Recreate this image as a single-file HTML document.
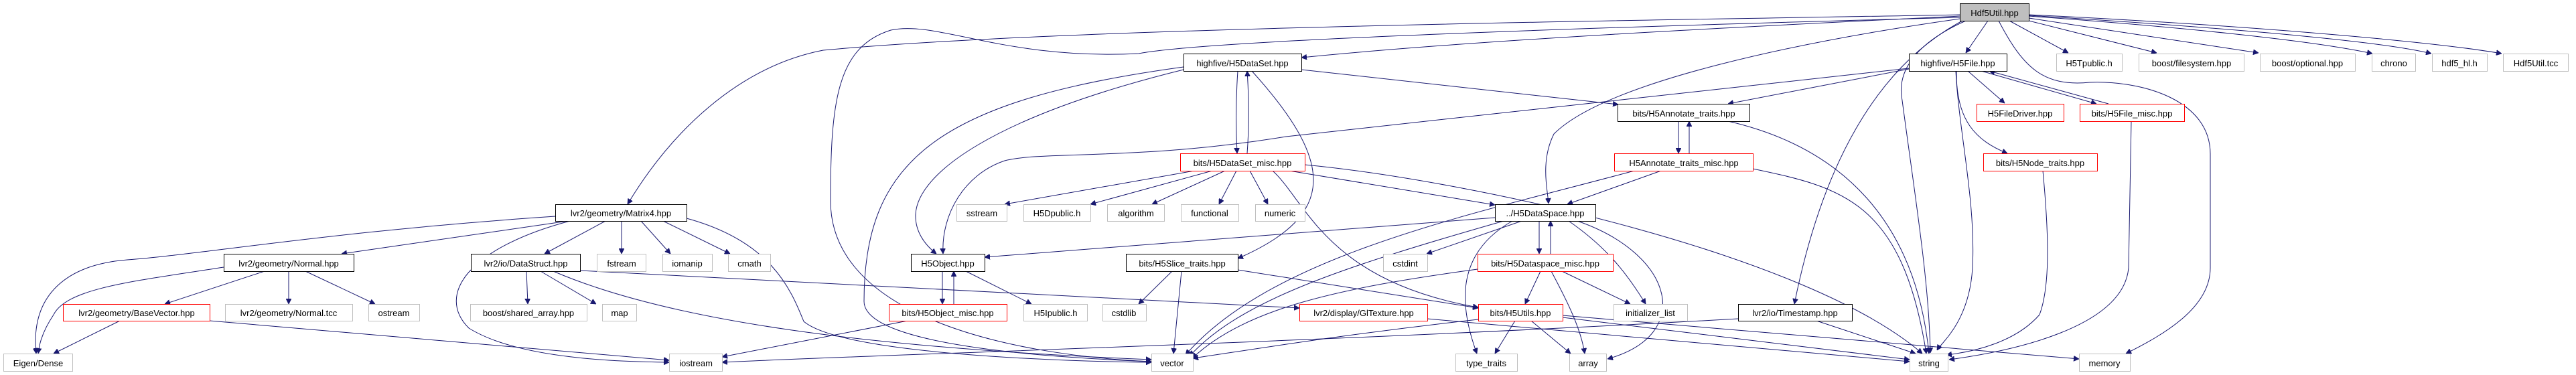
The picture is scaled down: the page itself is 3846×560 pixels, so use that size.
<!DOCTYPE html>
<html><head><meta charset="utf-8"><style>
html,body{margin:0;padding:0;background:#fff}
svg{display:block}
text{font-family:"Liberation Sans","DejaVu Sans",sans-serif;font-size:13px;fill:#000;text-anchor:middle}
.b{fill:#fff;stroke:#000;stroke-width:1}
.r{fill:#fff;stroke:#ff0000;stroke-width:1}
.g{fill:#fff;stroke:#bfbfbf;stroke-width:1}
path{fill:none;stroke:#191970;stroke-width:1}
</style></head><body>
<svg width="3846" height="560" viewBox="0 0 3846 560" xmlns="http://www.w3.org/2000/svg">
<defs><marker id="a" viewBox="0 0 10 10" refX="10" refY="5" markerWidth="8" markerHeight="8" orient="auto" markerUnits="userSpaceOnUse"><path d="M0,0 L10,5 L0,10 z" style="fill:#191970;stroke:#191970"/></marker></defs>
<g marker-end="url(#a)">
<path d="M2926,22 C2500,30 1600,40 1229,75 C1100,100 1000,200 937,305"/>
<path d="M2926,24 C2600,40 2200,60 1943,86"/>
<path d="M2926,26 C2400,40 1800,60 1700,80 C1500,90 1400,30 1330,45 C1250,70 1240,150 1240,300 C1240,470 1500,530 1719,540"/>
<path d="M2968,31 L2935,79"/>
<path d="M2926,28 C2700,60 2400,120 2320,200 C2300,240 2310,280 2312,304"/>
<path d="M2930,31 C2800,100 2720,250 2679,454"/>
<path d="M2935,31 C2870,60 2830,100 2840,150 C2860,300 2880,420 2882,527"/>
<path d="M2984,31 C3020,100 3050,130 3120,123 C3200,120 3300,150 3300,230 L3300,400 C3300,460 3230,500 3174,528"/>
<path d="M3000,31 L3088,79"/>
<path d="M3029,31 L3220,79"/>
<path d="M3029,27 L3372,79"/>
<path d="M3029,24 C3250,40 3450,60 3542,80"/>
<path d="M3029,23 C3300,40 3550,60 3630,80"/>
<path d="M3029,22 C3400,40 3650,65 3735,80"/>
<path d="M2850,103 L2580,155"/>
<path d="M2850,102 L1920,204 C1700,240 1560,225 1500,240 C1440,260 1405,320 1408,379"/>
<path d="M2938,106 L2993,154"/>
<path d="M2958,106 L3130,155"/>
<path d="M3148,155 L2970,106"/>
<path d="M2921,106 C2920,180 2950,210 2997,229"/>
<path d="M2920,106 C2925,200 2950,300 2945,400 C2940,480 2900,510 2892,523"/>
<path d="M3182,181 L3178,400 C3170,490 3000,525 2910,537"/>
<path d="M3050,255 C3060,360 3060,430 3045,470 C3010,510 2950,525 2906,530"/>
<path d="M1848,106 C1845,150 1845,190 1847,229"/>
<path d="M1862,229 C1865,190 1865,150 1862,106"/>
<path d="M1943,104 L2416,156"/>
<path d="M1767,104 C1480,175 1370,260 1367,320 C1366,345 1380,365 1398,379"/>
<path d="M1767,100 C1400,150 1290,240 1290,450 C1290,520 1600,535 1719,540"/>
<path d="M1869,106 C1990,240 2000,320 1848,386"/>
<path d="M829,323 C500,345 300,380 190,388 C100,395 45,440 54,528"/>
<path d="M848,330 L510,379"/>
<path d="M904,330 L813,379"/>
<path d="M928,330 L928,379"/>
<path d="M957,330 L1001,379"/>
<path d="M990,330 L1090,379"/>
<path d="M851,330 C700,370 650,440 700,490 C780,540 950,540 999,541"/>
<path d="M1025,326 C1150,360 1180,430 1200,480 C1260,530 1600,540 1719,541"/>
<path d="M395,405 L246,454"/>
<path d="M431,405 L431,454"/>
<path d="M456,405 L560,454"/>
<path d="M334,399 C200,420 100,430 80,470 C60,500 58,520 57,528"/>
<path d="M179,479 L80,528"/>
<path d="M313,479 L999,538"/>
<path d="M786,405 L788,454"/>
<path d="M807,405 L890,454"/>
<path d="M866,404 L1940,460"/>
<path d="M826,405 C1000,480 1300,520 1719,537"/>
<path d="M1783,255 L1500,305"/>
<path d="M1810,255 L1628,305"/>
<path d="M1829,255 L1720,305"/>
<path d="M1846,255 L1820,305"/>
<path d="M1866,255 L1893,305"/>
<path d="M1925,255 L2232,306"/>
<path d="M1900,255 C1950,300 1980,420 2207,459"/>
<path d="M1948,246 C2200,270 2700,380 2870,528"/>
<path d="M2506,181 L2506,229"/>
<path d="M2522,229 L2522,181"/>
<path d="M2580,181 C2750,220 2860,330 2880,528"/>
<path d="M2480,255 L2340,305"/>
<path d="M2440,255 C2200,320 1900,380 1770,530"/>
<path d="M2617,252 C2750,280 2840,300 2876,528"/>
<path d="M2232,325 L1470,384"/>
<path d="M2245,330 C2000,400 1850,450 1776,532"/>
<path d="M2272,330 L2130,379"/>
<path d="M2298,330 L2298,379"/>
<path d="M2315,379 L2315,330"/>
<path d="M2342,330 C2400,370 2430,410 2457,454"/>
<path d="M2355,330 C2500,380 2530,500 2400,536"/>
<path d="M2258,330 C2170,380 2180,460 2205,528"/>
<path d="M2300,405 L2277,454"/>
<path d="M2316,405 C2340,450 2360,490 2366,528"/>
<path d="M2332,405 L2434,454"/>
<path d="M2206,402 C2000,430 1860,460 1780,535"/>
<path d="M2262,479 L2232,528"/>
<path d="M2286,479 L2345,528"/>
<path d="M2207,477 C2000,500 1850,525 1781,535"/>
<path d="M2333,474 L2851,537"/>
<path d="M2333,471 L3104,536"/>
<path d="M2131,476 L2851,540"/>
<path d="M2595,476 C2000,510 1300,530 1078,541"/>
<path d="M2712,479 L2860,528"/>
<path d="M1407,405 L1407,454"/>
<path d="M1424,454 L1424,405"/>
<path d="M1442,405 L1540,454"/>
<path d="M1355,479 L1078,533"/>
<path d="M1750,405 L1700,454"/>
<path d="M1764,405 L1752,528"/>
<path d="M1848,403 L2207,460"/>
</g>
<rect x="2926.5" y="5.5" width="103" height="26" style="fill:#bfbfbf;stroke:#000"/><text x="2978" y="24">Hdf5Util.hpp</text>
<rect class="b" x="1767.5" y="80.5" width="176" height="26"/><text x="1855" y="99">highfive/H5DataSet.hpp</text>
<rect class="b" x="2850.5" y="80.5" width="146" height="26"/><text x="2923" y="99">highfive/H5File.hpp</text>
<rect class="g" x="3070.5" y="80.5" width="98" height="26"/><text x="3119" y="99">H5Tpublic.h</text>
<rect class="g" x="3193.5" y="80.5" width="157" height="26"/><text x="3272" y="99">boost/filesystem.hpp</text>
<rect class="g" x="3374.5" y="80.5" width="142" height="26"/><text x="3445" y="99">boost/optional.hpp</text>
<rect class="g" x="3541.5" y="80.5" width="65" height="26"/><text x="3574" y="99">chrono</text>
<rect class="g" x="3631.5" y="80.5" width="82" height="26"/><text x="3672" y="99">hdf5_hl.h</text>
<rect class="g" x="3737.5" y="80.5" width="97" height="26"/><text x="3786" y="99">Hdf5Util.tcc</text>
<rect class="b" x="2415.5" y="155.5" width="197" height="26"/><text x="2514" y="174">bits/H5Annotate_traits.hpp</text>
<rect class="r" x="2951.5" y="155.5" width="130" height="26"/><text x="3016" y="174">H5FileDriver.hpp</text>
<rect class="r" x="3105.5" y="155.5" width="156" height="26"/><text x="3183" y="174">bits/H5File_misc.hpp</text>
<rect class="r" x="1762.5" y="229.5" width="186" height="26"/><text x="1855" y="248">bits/H5DataSet_misc.hpp</text>
<rect class="r" x="2410.5" y="229.5" width="207" height="26"/><text x="2514" y="248">H5Annotate_traits_misc.hpp</text>
<rect class="r" x="2961.5" y="229.5" width="170" height="26"/><text x="3046" y="248">bits/H5Node_traits.hpp</text>
<rect class="b" x="829.5" y="305.5" width="196" height="25"/><text x="927" y="323">lvr2/geometry/Matrix4.hpp</text>
<rect class="g" x="1428.5" y="305.5" width="75" height="25"/><text x="1466" y="323">sstream</text>
<rect class="g" x="1528.5" y="305.5" width="100" height="25"/><text x="1578" y="323">H5Dpublic.h</text>
<rect class="g" x="1653.5" y="305.5" width="85" height="25"/><text x="1696" y="323">algorithm</text>
<rect class="g" x="1763.5" y="305.5" width="86" height="25"/><text x="1806" y="323">functional</text>
<rect class="g" x="1874.5" y="305.5" width="74" height="25"/><text x="1911" y="323">numeric</text>
<rect class="b" x="2232.5" y="305.5" width="150" height="25"/><text x="2307" y="323">../H5DataSpace.hpp</text>
<rect class="b" x="334.5" y="379.5" width="194" height="26"/><text x="431" y="398">lvr2/geometry/Normal.hpp</text>
<rect class="b" x="703.5" y="379.5" width="163" height="26"/><text x="785" y="398">lvr2/io/DataStruct.hpp</text>
<rect class="g" x="891.5" y="379.5" width="73" height="26"/><text x="928" y="398">fstream</text>
<rect class="g" x="989.5" y="379.5" width="74" height="26"/><text x="1026" y="398">iomanip</text>
<rect class="g" x="1087.5" y="379.5" width="63" height="26"/><text x="1119" y="398">cmath</text>
<rect class="b" x="1360.5" y="379.5" width="110" height="26"/><text x="1415" y="398">H5Object.hpp</text>
<rect class="b" x="1681.5" y="379.5" width="167" height="26"/><text x="1765" y="398">bits/H5Slice_traits.hpp</text>
<rect class="g" x="2065.5" y="379.5" width="66" height="26"/><text x="2098" y="398">cstdint</text>
<rect class="r" x="2206.5" y="379.5" width="202" height="26"/><text x="2307" y="398">bits/H5Dataspace_misc.hpp</text>
<rect class="r" x="94.5" y="454.5" width="219" height="25"/><text x="204" y="472">lvr2/geometry/BaseVector.hpp</text>
<rect class="g" x="336.5" y="454.5" width="190" height="25"/><text x="431" y="472">lvr2/geometry/Normal.tcc</text>
<rect class="g" x="550.5" y="454.5" width="76" height="25"/><text x="588" y="472">ostream</text>
<rect class="g" x="702.5" y="454.5" width="174" height="25"/><text x="789" y="472">boost/shared_array.hpp</text>
<rect class="g" x="899.5" y="454.5" width="51" height="25"/><text x="925" y="472">map</text>
<rect class="r" x="1327.5" y="454.5" width="176" height="25"/><text x="1415" y="472">bits/H5Object_misc.hpp</text>
<rect class="g" x="1528.5" y="454.5" width="95" height="25"/><text x="1576" y="472">H5Ipublic.h</text>
<rect class="g" x="1646.5" y="454.5" width="65" height="25"/><text x="1678" y="472">cstdlib</text>
<rect class="r" x="1940.5" y="454.5" width="191" height="25"/><text x="2036" y="472">lvr2/display/GlTexture.hpp</text>
<rect class="r" x="2207.5" y="454.5" width="126" height="25"/><text x="2270" y="472">bits/H5Utils.hpp</text>
<rect class="g" x="2409.5" y="454.5" width="110" height="25"/><text x="2464" y="472">initializer_list</text>
<rect class="b" x="2595.5" y="454.5" width="170" height="25"/><text x="2680" y="472">lvr2/io/Timestamp.hpp</text>
<rect class="g" x="5.5" y="528.5" width="103" height="26"/><text x="57" y="547">Eigen/Dense</text>
<rect class="g" x="999.5" y="528.5" width="79" height="26"/><text x="1039" y="547">iostream</text>
<rect class="g" x="1719.5" y="528.5" width="62" height="26"/><text x="1750" y="547">vector</text>
<rect class="g" x="2173.5" y="528.5" width="92" height="26"/><text x="2219" y="547">type_traits</text>
<rect class="g" x="2343.5" y="528.5" width="55" height="26"/><text x="2371" y="547">array</text>
<rect class="g" x="2851.5" y="528.5" width="57" height="26"/><text x="2880" y="547">string</text>
<rect class="g" x="3104.5" y="528.5" width="76" height="26"/><text x="3142" y="547">memory</text>
</svg>
</body></html>
